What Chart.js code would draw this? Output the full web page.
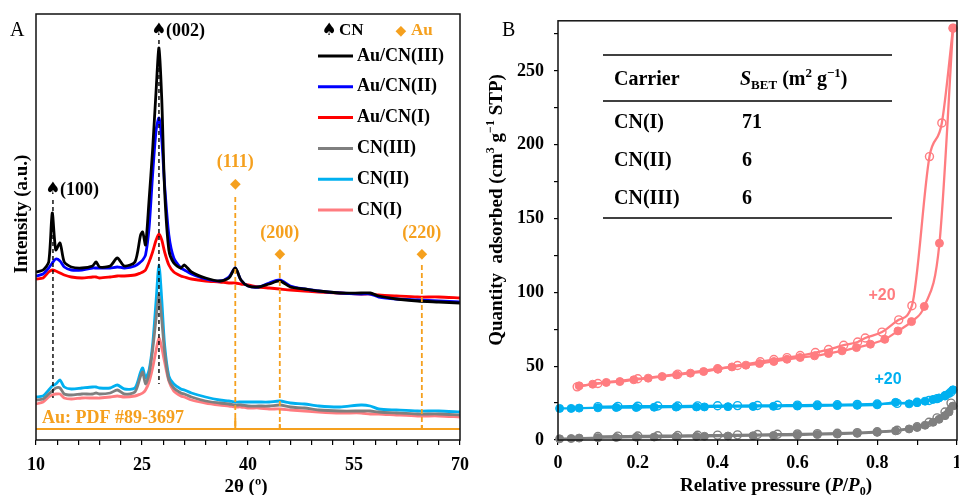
<!DOCTYPE html>
<html>
<head>
<meta charset="utf-8">
<script src="https://cdn.jsdelivr.net/npm/chart.js@4.4.1/dist/chart.umd.min.js"></script>
<style>
  html, body { margin: 0; padding: 0; background: #fff; }
  body { width: 959px; height: 495px; overflow: hidden; position: relative; }
  #xrdBox { position: absolute; left: 0; top: 0; }
  #betBox { position: absolute; left: 480px; top: 0; }
</style>
</head>
<body>
<div id="xrdBox"><canvas id="xrdChart" width="480" height="495"></canvas></div>
<div id="betBox"><canvas id="betChart" width="490" height="495"></canvas></div>
<script>
// Panel A - XRD patterns (intensity in a.u.)
const twoTheta = [10, 11, 11.8, 12.3, 12.8, 13.4, 14, 15, 16.5, 18,
  18.5, 19, 20.5, 21.5, 22.5, 24, 24.8, 25.1, 25.5, 26,
  26.5, 27, 27.4, 27.8, 28.2, 28.8, 29.5, 30.5, 31, 32,
  34, 36, 37.3, 38.2, 39, 40, 41.5, 43, 44.5, 46,
  48, 50, 53, 56, 57.3, 58.5, 61, 64, 67, 70];
const auCN3 = [168, 170, 178, 227, 190, 197, 178, 173, 172, 174,
  178, 173, 174, 182, 174, 178, 205, 208, 195, 240,
  290, 350, 392, 340, 250, 190, 177, 172, 175, 168,
  162, 159, 162, 172, 160, 154, 153, 156, 159, 153,
  151, 149, 147, 147, 147, 144, 141, 139, 138, 137];
const auCN2 = [164, 166, 172, 177, 181, 179, 173, 170, 170, 172,
  172, 172, 172, 173, 172, 174, 178, 180, 185, 212,
  265, 310, 322, 300, 255, 205, 182, 172, 170, 166,
  161, 159, 163, 172, 160, 154, 153, 157, 160, 154,
  151, 149, 147, 146, 146, 143, 141, 140, 139, 138];
const auCN1 = [161, 162, 168, 170, 169, 167, 165, 163, 162, 163,
  163, 162, 163, 164, 164, 165, 167, 168, 170, 178,
  188, 200, 206, 200, 188, 175, 168, 164, 163, 161,
  159, 158, 157, 157, 156, 155, 153, 152, 151, 150,
  149, 148, 147, 146, 146, 145, 144, 143, 143, 142];
const cn3 = [40, 41, 46, 49, 52, 52, 46, 45, 46, 46,
  47, 46, 47, 50, 46, 48, 64, 68, 56, 66,
  90, 122, 145, 120, 88, 60, 52, 47, 46, 43,
  39, 37, 36, 35, 35, 34, 34, 34, 35, 33,
  32, 30, 29, 29, 29, 28, 27, 26, 26, 25];
const cn2 = [43, 44, 50, 54, 56, 60, 53, 51, 52, 53,
  53, 52, 52, 55, 51, 52, 68, 72, 62, 70,
  95, 140, 175, 140, 95, 64, 56, 51, 50, 47,
  43, 40, 39, 38, 38, 38, 38, 38, 39, 37,
  36, 34, 33, 35, 34, 31, 30, 29, 29, 28];
const cn1 = [36, 38, 43, 45, 46, 46, 42, 41, 42, 42,
  42, 42, 43, 44, 43, 44, 46, 47, 50, 58,
  72, 90, 102, 92, 78, 59, 49, 44, 43, 40,
  37, 35, 34, 33, 33, 32, 32, 31, 31, 30,
  29, 28, 27, 27, 26, 26, 25, 24, 24, 23];
// Au reference pattern (PDF #89-3697) as sticks on a baseline
const auRefX = [10, 38.2, 38.2, 38.2, 44.5, 44.5, 44.5, 64.6, 64.6, 64.6, 70];
const auRefY = [11, 11, 22, 11, 11, 16, 11, 11, 15, 11, 11];
const cnPeaks = [12.4, 27.4];
const cnLabels = ['(100)', '(002)'];
const auPeaks = [38.2, 44.5, 64.6];
const auLabels = ['(111)', '(200)', '(220)'];
const xrdTicks = [10, 25, 40, 55, 70];

// Panel B - N2 isotherms (CN(I) and CN(II) shifted +20)
const pCN1Ads = [0.053, 0.087, 0.121, 0.155, 0.19, 0.226, 0.261, 0.297, 0.332, 0.365,
  0.401, 0.436, 0.471, 0.505, 0.541, 0.574, 0.607, 0.643, 0.678, 0.712,
  0.748, 0.783, 0.819, 0.852, 0.886, 0.918, 0.956, 0.99];
const qCN1Ads = [36.7, 37.8, 39.0, 39.6, 40.8, 41.9, 43.0, 44.1, 45.3, 46.4,
  48.0, 49.5, 50.7, 51.8, 53.2, 54.7, 55.9, 57.0, 58.6, 60.4,
  62.6, 64.9, 68.2, 73.9, 80.2, 90.5, 133.3, 279];
const pCN1Des = [0.048, 0.1, 0.2, 0.3, 0.4, 0.45, 0.507, 0.541, 0.574, 0.607,
  0.645, 0.678, 0.716, 0.751, 0.77, 0.812, 0.854, 0.887, 0.931, 0.962, 0.99];
const qCN1Des = [36.0, 38.3, 41.5, 44.6, 48.3, 50.5, 53.0, 54.5, 55.8, 57.2,
  59.3, 61.3, 64.2, 66.4, 69.1, 73.1, 81.4, 91.0, 192.0, 214.8, 279];
const pAds = [0.004, 0.033, 0.053, 0.1, 0.146, 0.196, 0.241, 0.296, 0.347, 0.367,
  0.426, 0.489, 0.54, 0.6, 0.65, 0.7, 0.75, 0.8, 0.846, 0.88,
  0.9, 0.92, 0.94, 0.955, 0.97, 0.98, 0.99];
const qCN2Ads = [21.4, 21.4, 21.6, 21.8, 22.0, 22.0, 22.2, 22.3, 22.4, 22.4,
  22.6, 22.7, 22.8, 23.0, 23.1, 23.3, 23.5, 23.8, 25.5, 24.5,
  25.3, 26.3, 27.5, 28.5, 30.0, 31.5, 34.0];
const qCN3Ads = [0.8, 1.0, 1.3, 1.5, 1.7, 1.9, 2.0, 2.2, 2.4, 2.5,
  2.7, 2.9, 3.1, 3.4, 3.7, 4.0, 4.5, 5.2, 6.2, 7.5,
  8.5, 10.0, 12.0, 14.0, 16.5, 19.0, 23.0];
const pDes = [0.1, 0.15, 0.2, 0.25, 0.3, 0.35, 0.4, 0.45, 0.5, 0.55,
  0.6, 0.65, 0.7, 0.75, 0.8, 0.85, 0.9, 0.93, 0.95, 0.97, 0.985];
const qCN2Des = [22.6, 22.8, 22.9, 23.0, 23.0, 23.1, 23.2, 23.3, 23.4, 23.5,
  23.6, 23.7, 23.9, 24.1, 24.4, 24.8, 25.6, 26.8, 28.0, 30.0, 32.5];
const qCN3Des = [2.4, 2.6, 2.7, 2.9, 3.0, 3.2, 3.3, 3.5, 3.7, 3.9,
  4.1, 4.3, 4.6, 5.0, 5.6, 6.6, 9.0, 12.0, 15.0, 19.0, 25.0];
const betXTicks = [0, 0.2, 0.4, 0.6, 0.8, 1];
const betYTicks = [0, 50, 100, 150, 200, 250];
const tableRows = ['CN(I)', 'CN(II)', 'CN(III)'];
const tableValues = ['71', '6', '6'];

const COLORS = { black: '#000000', blue: '#0000FF', red: '#FF0000', gray: '#7F7F7F', sky: '#00B0F0', pink: '#FF7C80', orange: '#F5A01E' };
const SERIF = '"Liberation Serif", "Times New Roman", serif';
const pts = (xs, ys) => xs.map((x, i) => ({ x, y: ys[i] }));

// Draw text made of parts (italic / sub / sup), centred or left aligned
function rich(ctx, parts, x, y, size, align) {
  const fontOf = p => `${p.it ? 'italic ' : ''}bold ${(p.sub || p.sup) ? Math.round(size * 0.65) : size}px ${SERIF}`;
  let w = 0;
  parts.forEach(p => { ctx.font = fontOf(p); w += ctx.measureText(p.t).width; });
  let cx = align === 'center' ? x - w / 2 : x;
  ctx.textAlign = 'left';
  ctx.textBaseline = 'middle';
  parts.forEach(p => {
    ctx.font = fontOf(p);
    const dy = p.sub ? size * 0.3 : p.sup ? -size * 0.32 : 0;
    ctx.fillText(p.t, cx, y + dy);
    cx += ctx.measureText(p.t).width;
  });
}

function text(ctx, s, x, y, font, color, align) {
  ctx.font = font;
  ctx.fillStyle = color;
  ctx.textAlign = align || 'left';
  ctx.textBaseline = 'middle';
  ctx.fillText(s, x, y);
}

function vline(ctx, x, y1, y2) {
  ctx.beginPath();
  ctx.moveTo(x, y1);
  ctx.lineTo(x, y2);
  ctx.stroke();
}

function frame(chart) {
  const { ctx, chartArea: a } = chart;
  ctx.save();
  ctx.strokeStyle = '#111';
  ctx.lineWidth = 1.5;
  ctx.strokeRect(a.left, a.top, a.right - a.left, a.bottom - a.top);
  ctx.restore();
}

// Panel A decorations
const xrdDecor = {
  id: 'xrdDecor',
  afterDatasetsDraw(chart) {
    const { ctx, scales: { x, y } } = chart;
    ctx.save();
    ctx.strokeStyle = '#000';
    ctx.lineWidth = 1.4;
    ctx.setLineDash([4, 3]);
    vline(ctx, x.getPixelForValue(cnPeaks[0]), y.getPixelForValue(240), y.getPixelForValue(42));
    vline(ctx, x.getPixelForValue(cnPeaks[1]), y.getPixelForValue(400), y.getPixelForValue(56));
    ctx.strokeStyle = COLORS.orange;
    ctx.lineWidth = 1.8;
    ctx.setLineDash([5, 3]);
    vline(ctx, x.getPixelForValue(auPeaks[0]), y.getPixelForValue(243), y.getPixelForValue(12));
    vline(ctx, x.getPixelForValue(auPeaks[1]), y.getPixelForValue(175), y.getPixelForValue(12));
    vline(ctx, x.getPixelForValue(auPeaks[2]), y.getPixelForValue(175), y.getPixelForValue(12));
    ctx.restore();
  },
  afterDraw(chart) {
    const { ctx, scales: { x, y } } = chart;
    frame(chart);
    ctx.save();
    const bold = `bold 18px ${SERIF}`;
    // CN reflection labels
    const spade = `17px "DejaVu Sans", sans-serif`;
    const cnY = [y.getPixelForValue(250), y.getPixelForValue(409)];
    cnPeaks.forEach((p, i) => {
      const px = x.getPixelForValue(p);
      text(ctx, '\u2660', px, cnY[i], spade, '#000', 'center');
      text(ctx, cnLabels[i], px + 7, cnY[i], bold, '#000', 'left');
    });
    // Au reflection labels
    const dia = `14px "DejaVu Sans", sans-serif`;
    const diaY = [y.getPixelForValue(256), y.getPixelForValue(186), y.getPixelForValue(186)];
    const lblY = [y.getPixelForValue(278), y.getPixelForValue(207), y.getPixelForValue(207)];
    auPeaks.forEach((p, i) => {
      const px = x.getPixelForValue(p);
      text(ctx, '\u25C6', px, diaY[i], dia, COLORS.orange, 'center');
      text(ctx, auLabels[i], px, lblY[i], bold, COLORS.orange, 'center');
    });
    text(ctx, 'Au: PDF #89-3697', 42, 418, bold, COLORS.orange, 'left');
    // legend
    text(ctx, '\u2660', 329, 31, spade, '#000', 'center');
    text(ctx, 'CN', 339, 31, `bold 17px ${SERIF}`, '#000', 'left');
    text(ctx, '\u25C6', 401, 31, dia, COLORS.orange, 'center');
    text(ctx, 'Au', 411, 31, `bold 17px ${SERIF}`, COLORS.orange, 'left');
    chart.data.datasets.slice(0, 6).forEach((ds, i) => {
      const ly = 56 + i * 30.8;
      ctx.strokeStyle = ds.borderColor;
      ctx.lineWidth = 3;
      ctx.beginPath();
      ctx.moveTo(318, ly);
      ctx.lineTo(353, ly);
      ctx.stroke();
      text(ctx, ds.label, 357, ly, bold, '#000', 'left');
    });
    // panel letter and axis titles
    text(ctx, 'A', 10, 31, `20px ${SERIF}`, '#000', 'left');
    text(ctx, '2\u03B8 (\u00BA)', 246, 487, `bold 19px ${SERIF}`, '#000', 'center');
    ctx.translate(22, 214);
    ctx.rotate(-Math.PI / 2);
    text(ctx, 'Intensity (a.u.)', 0, 0, `bold 19px ${SERIF}`, '#000', 'center');
    ctx.restore();
  }
};

// Panel B decorations
const betDecor = {
  id: 'betDecor',
  afterDraw(chart) {
    const { ctx } = chart;
    frame(chart);
    ctx.save();
    // table
    ctx.strokeStyle = '#000';
    ctx.lineWidth = 1.5;
    [55, 101, 218].forEach(ly => {
      ctx.beginPath();
      ctx.moveTo(123, ly);
      ctx.lineTo(412, ly);
      ctx.stroke();
    });
    ctx.fillStyle = '#000';
    const tf = `bold 20px ${SERIF}`;
    text(ctx, 'Carrier', 134, 80, tf, '#000', 'left');
    rich(ctx, [{ t: 'S', it: true }, { t: 'BET', sub: true }, { t: ' (m' }, { t: '2', sup: true },
      { t: ' g' }, { t: '\u22121', sup: true }, { t: ')' }], 260, 80, 20, 'left');
    tableRows.forEach((r, i) => {
      const ry = 123 + i * 38;
      text(ctx, r, 134, ry, tf, '#000', 'left');
      text(ctx, tableValues[i], 262, ry, tf, '#000', 'left');
    });
    // offset notes
    text(ctx, '+20', 402, 296, 'bold 16px "Liberation Sans", Arial, sans-serif', COLORS.pink, 'center');
    text(ctx, '+20', 408, 380, 'bold 16px "Liberation Sans", Arial, sans-serif', COLORS.sky, 'center');
    text(ctx, 'B', 22, 31, `20px ${SERIF}`, '#000', 'left');
    // axis titles
    ctx.fillStyle = '#000';
    rich(ctx, [{ t: 'Relative pressure (' }, { t: 'P', it: true }, { t: '/' }, { t: 'P', it: true },
      { t: '0', sub: true }, { t: ')' }], 296, 486, 19, 'center');
    ctx.translate(17, 210);
    ctx.rotate(-Math.PI / 2);
    rich(ctx, [{ t: 'Quantity  adsorbed (cm' }, { t: '3', sup: true }, { t: ' g' }, { t: '\u22121', sup: true },
      { t: ' STP)' }], 0, 0, 19, 'center');
    ctx.restore();
  }
};

const tickFont = { family: SERIF, size: 18, weight: 'bold' };

new Chart(document.getElementById('xrdChart'), {
  type: 'line',
  data: {
    datasets: [
      { label: 'Au/CN(III)', data: pts(twoTheta, auCN3), borderColor: COLORS.black },
      { label: 'Au/CN(II)', data: pts(twoTheta, auCN2), borderColor: COLORS.blue },
      { label: 'Au/CN(I)', data: pts(twoTheta, auCN1), borderColor: COLORS.red },
      { label: 'CN(III)', data: pts(twoTheta, cn3), borderColor: COLORS.gray },
      { label: 'CN(II)', data: pts(twoTheta, cn2), borderColor: COLORS.sky },
      { label: 'CN(I)', data: pts(twoTheta, cn1), borderColor: COLORS.pink },
      { label: 'Au ref', data: pts(auRefX, auRefY), borderColor: COLORS.orange, borderWidth: 2, tension: 0 }
    ]
  },
  options: {
    responsive: false,
    animation: false,
    devicePixelRatio: 1,
    layout: { padding: { top: 14, right: 20, left: 0, bottom: 0 } },
    elements: { point: { radius: 0 }, line: { borderWidth: 2.8, tension: 0.25 } },
    plugins: { legend: { display: false }, tooltip: { enabled: false } },
    scales: {
      x: {
        type: 'linear', min: 10, max: 70,
        afterFit: s => { s.height = 55; },
        border: { display: false },
        grid: { drawOnChartArea: false, tickLength: 5, color: '#000', lineWidth: 1.2 },
        ticks: {
          stepSize: 3, autoSkip: false, maxRotation: 0, padding: 10, color: '#000', font: tickFont,
          callback: v => (xrdTicks.includes(v) ? v : '')
        }
      },
      y: {
        min: 0, max: 426,
        afterFit: s => { s.width = 36; },
        border: { display: false },
        grid: { display: false },
        ticks: { display: false }
      }
    }
  },
  plugins: [xrdDecor]
});

const filled = (label, xs, ys, color) => ({
  label, data: pts(xs, ys), borderColor: color, backgroundColor: color,
  pointBackgroundColor: color, pointBorderColor: color, pointRadius: 4, pointBorderWidth: 1
});
const open = (label, xs, ys, color) => ({
  label, data: pts(xs, ys), borderColor: color, backgroundColor: color,
  pointBackgroundColor: 'rgba(255,255,255,0)', pointBorderColor: color, pointRadius: 4, pointBorderWidth: 1.4
});

new Chart(document.getElementById('betChart'), {
  type: 'line',
  data: {
    datasets: [
      filled('CN(I) ads', pCN1Ads, qCN1Ads, COLORS.pink),
      filled('CN(II) ads', pAds, qCN2Ads, COLORS.sky),
      filled('CN(III) ads', pAds, qCN3Ads, COLORS.gray),
      open('CN(I) des', pCN1Des, qCN1Des, COLORS.pink),
      open('CN(II) des', pDes, qCN2Des, COLORS.sky),
      open('CN(III) des', pDes, qCN3Des, COLORS.gray)
    ]
  },
  options: {
    responsive: false,
    animation: false,
    devicePixelRatio: 1,
    clip: false,
    layout: { padding: { top: 15, right: 13, left: 0, bottom: 0 } },
    elements: { line: { borderWidth: 2.3, cubicInterpolationMode: 'monotone' } },
    plugins: { legend: { display: false }, tooltip: { enabled: false } },
    scales: {
      x: {
        type: 'linear', min: 0, max: 1,
        afterFit: s => { s.height = 55; },
        border: { display: false },
        grid: { drawOnChartArea: false, tickLength: 5, color: '#000', lineWidth: 1.2 },
        ticks: {
          stepSize: 0.1, autoSkip: false, maxRotation: 0, padding: 8, color: '#000', font: tickFont,
          callback: v => { const t = betXTicks.find(k => Math.abs(k - v) < 1e-6); return t === undefined ? '' : String(t); }
        }
      },
      y: {
        min: 0, max: 284,
        afterFit: s => { s.width = 78; },
        border: { display: false },
        grid: { drawOnChartArea: false, tickLength: 4, color: '#000', lineWidth: 1.2 },
        ticks: {
          stepSize: 25, includeBounds: false, autoSkip: false, padding: 10, color: '#000', font: tickFont,
          callback: v => (betYTicks.includes(v) ? v : '')
        }
      }
    }
  },
  plugins: [betDecor]
});
</script>
</body>
</html>
